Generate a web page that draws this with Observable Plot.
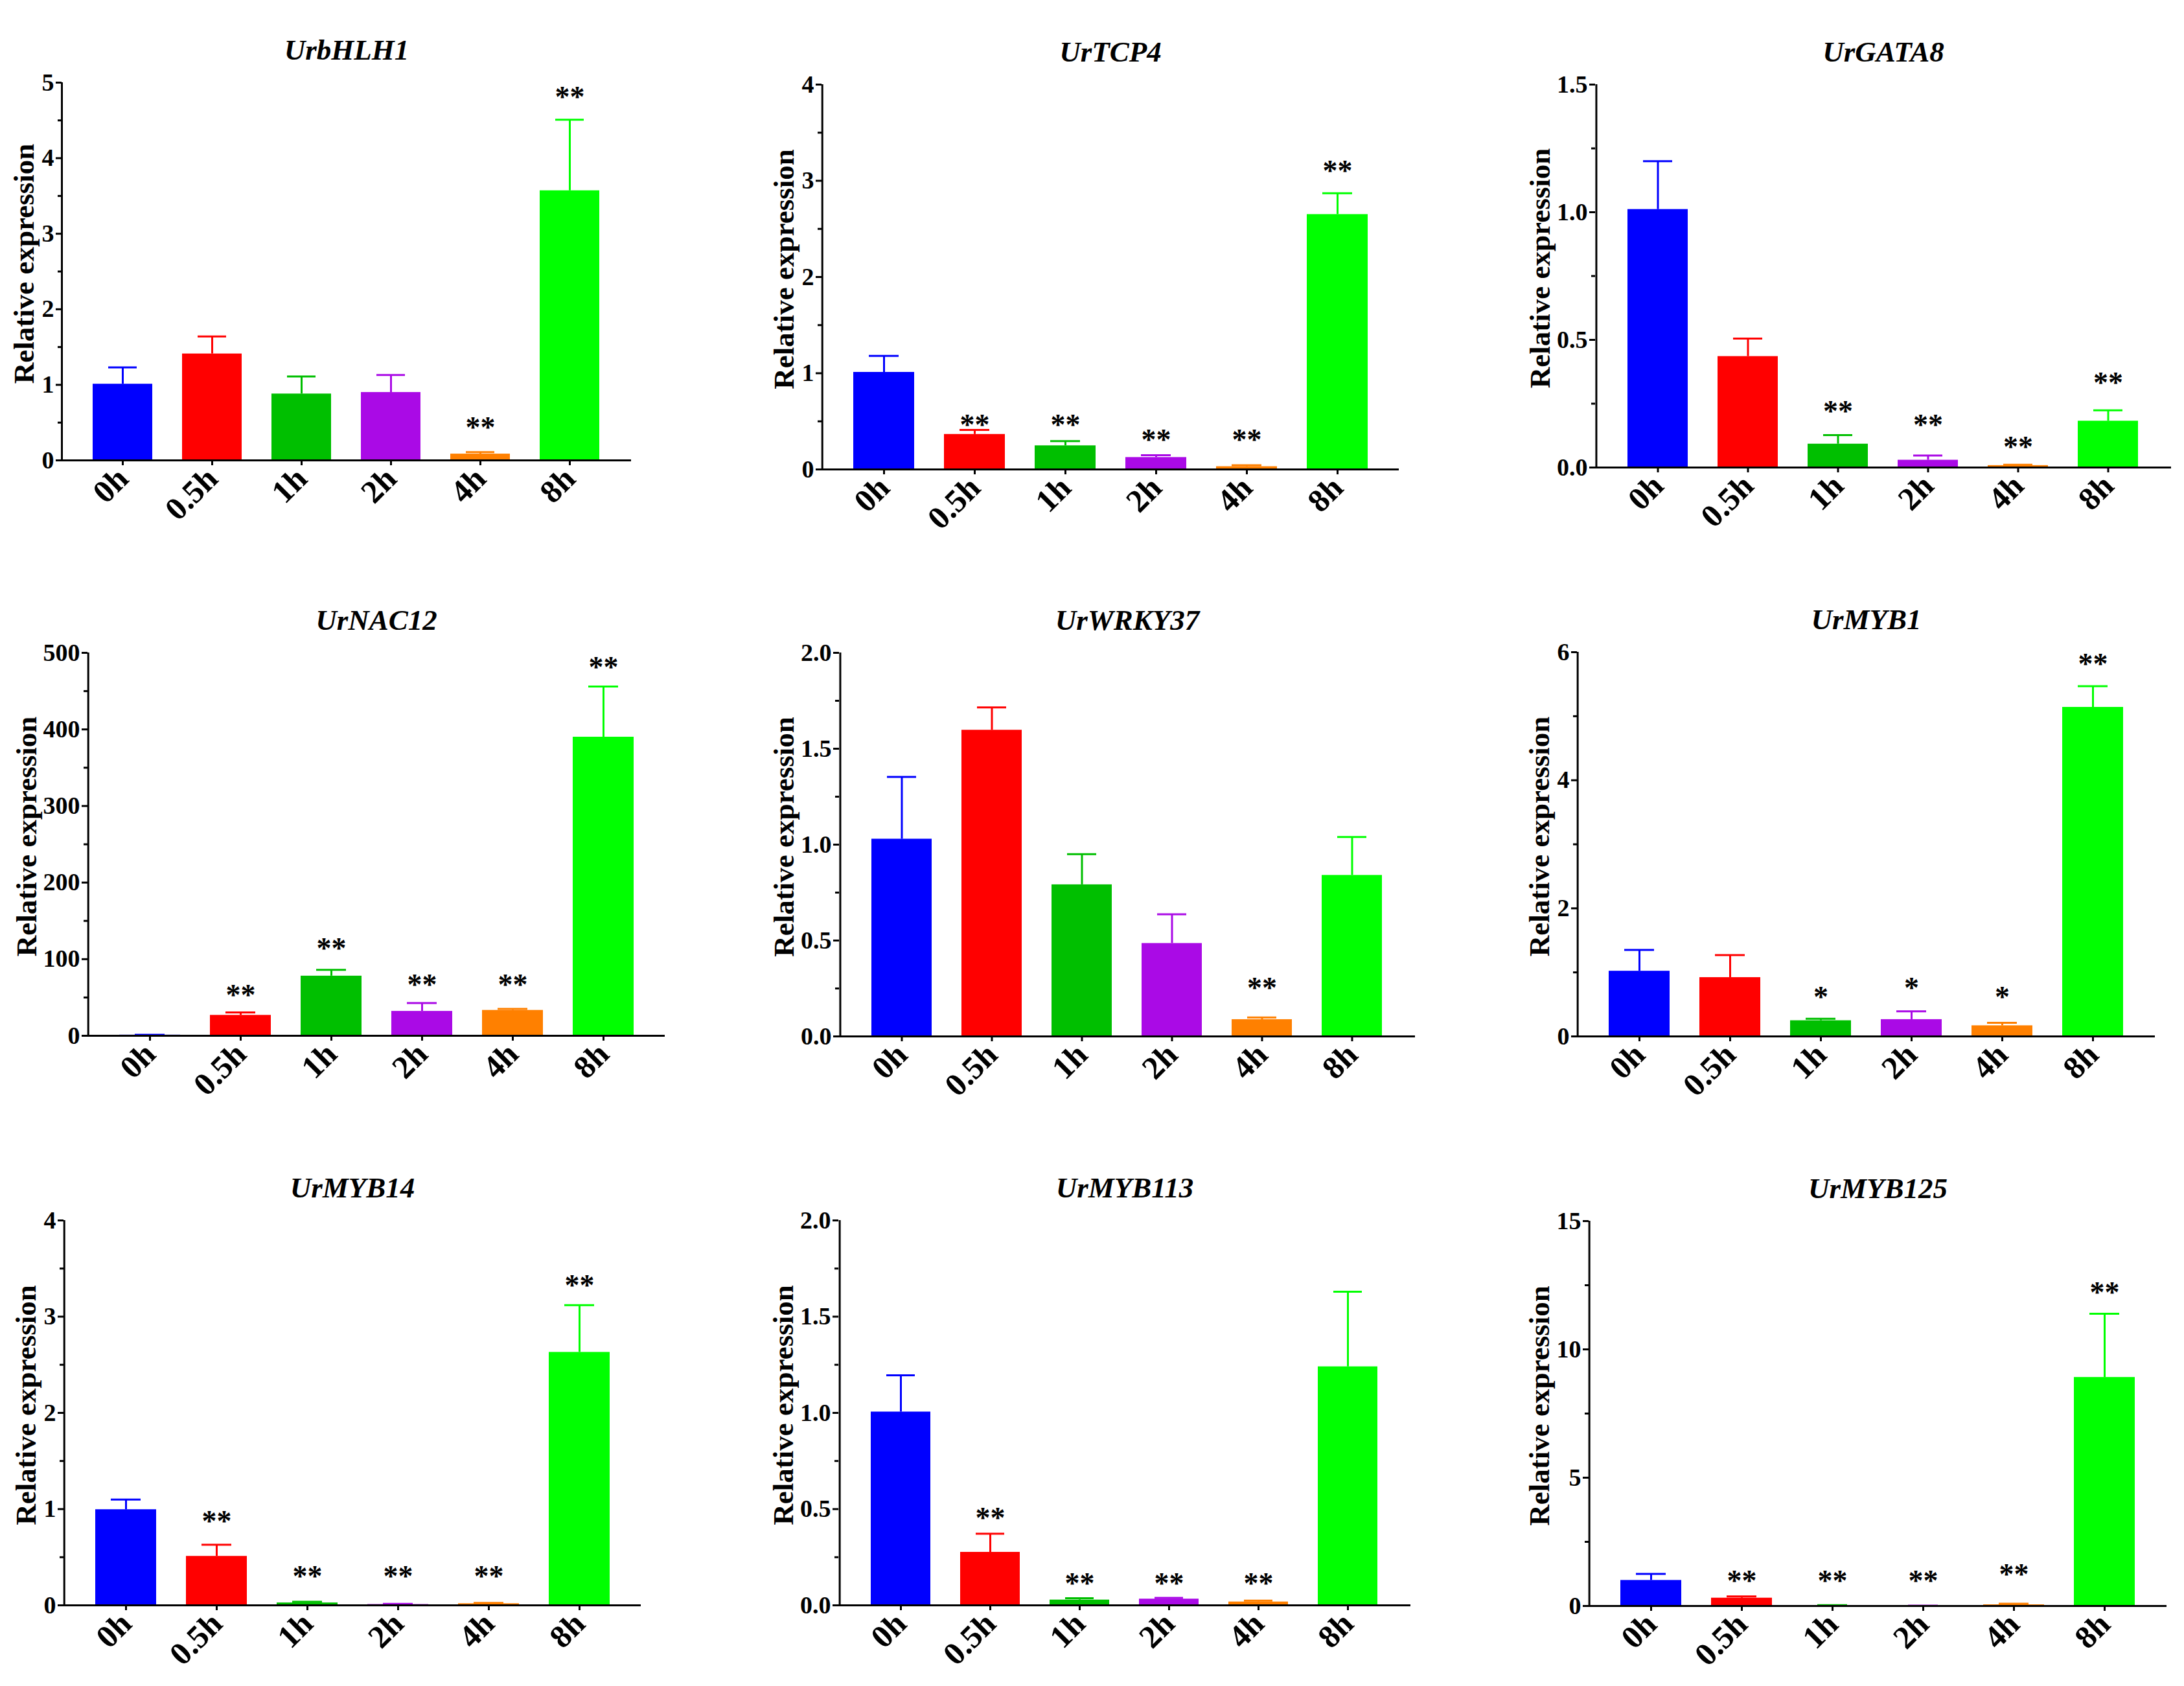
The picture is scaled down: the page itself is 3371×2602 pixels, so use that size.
<!DOCTYPE html>
<html><head><meta charset="utf-8">
<script src="https://cdn.jsdelivr.net/npm/d3@7"></script>
<script src="https://cdn.jsdelivr.net/npm/@observablehq/plot@0.6"></script>
<style>
html,body{margin:0;padding:0;background:#fff;}
#root{position:relative;width:3371px;height:2602px;overflow:hidden;background:#fff;}
#root svg{position:absolute;}
</style></head><body><div id="root"></div>
<script>
// ---- data ----
const times = ["0h", "0.5h", "1h", "2h", "4h", "8h"];
const barColors = ["#0000ff", "#ff0000", "#00bf00", "#aa0ae6", "#ff8000", "#00ff00"];
const geneNames = ["UrbHLH1", "UrTCP4", "UrGATA8", "UrNAC12", "UrWRKY37", "UrMYB1", "UrMYB14", "UrMYB113", "UrMYB125"];

const bHLH1Mean = [1.01, 1.41, 0.88, 0.90, 0.085, 3.57];
const bHLH1Sem  = [0.22, 0.23, 0.23, 0.23, 0.025, 0.94];
const bHLH1Sig  = ["", "", "", "", "**", "**"];
const bHLH1SigY = [0, 0, 0, 0, 0.517, 4.89];
const bHLH1Ticks = [0, 1, 2, 3, 4, 5];
const bHLH1TickLabels = ["0", "1", "2", "3", "4", "5"];

const TCP4Mean = [1.01, 0.365, 0.247, 0.125, 0.03, 2.65];
const TCP4Sem  = [0.17, 0.045, 0.048, 0.023, 0.014, 0.22];
const TCP4Sig  = ["", "**", "**", "**", "**", "**"];
const TCP4SigY = [0, 0.524, 0.524, 0.369, 0.369, 3.166];
const TCP4Ticks = [0, 1, 2, 3, 4];
const TCP4TickLabels = ["0", "1", "2", "3", "4"];

const GATA8Mean = [1.011, 0.435, 0.092, 0.029, 0.008, 0.182];
const GATA8Sem  = [0.189, 0.07, 0.035, 0.018, 0.003, 0.042];
const GATA8Sig  = ["", "", "**", "**", "**", "**"];
const GATA8SigY = [0, 0, 0.243, 0.19, 0.104, 0.357];
const GATA8Ticks = [0, 0.5, 1.0, 1.5];
const GATA8TickLabels = ["0.0", "0.5", "1.0", "1.5"];

const NAC12Mean = [1, 26.8, 78, 32, 33.3, 390];
const NAC12Sem  = [0.2, 3.7, 8, 10.7, 1.9, 66];
const NAC12Sig  = ["", "**", "**", "**", "**", "**"];
const NAC12SigY = [0, 61, 122, 75, 75, 489];
const NAC12Ticks = [0, 100, 200, 300, 400, 500];
const NAC12TickLabels = ["0", "100", "200", "300", "400", "500"];

const WRKY37Mean = [1.029, 1.597, 0.791, 0.485, 0.088, 0.840];
const WRKY37Sem  = [0.324, 0.118, 0.159, 0.152, 0.011, 0.20];
const WRKY37Sig  = ["", "", "", "", "**", ""];
const WRKY37SigY = [0, 0, 0, 0, 0.285, 0];
const WRKY37Ticks = [0, 0.5, 1.0, 1.5, 2.0];
const WRKY37TickLabels = ["0.0", "0.5", "1.0", "1.5", "2.0"];

const MYB1Mean = [1.02, 0.92, 0.247, 0.264, 0.168, 5.14];
const MYB1Sem  = [0.33, 0.35, 0.028, 0.129, 0.045, 0.33];
const MYB1Sig  = ["", "", "*", "*", "*", "**"];
const MYB1SigY = [0, 0, 0.713, 0.853, 0.713, 5.915];
const MYB1Ticks = [0, 2, 4, 6];
const MYB1TickLabels = ["0", "2", "4", "6"];

const MYB14Mean = [0.995, 0.51, 0.026, 0.01, 0.018, 2.63];
const MYB14Sem  = [0.105, 0.12, 0.011, 0.005, 0.008, 0.49];
const MYB14Sig  = ["", "**", "**", "**", "**", "**"];
const MYB14SigY = [0, 0.936, 0.366, 0.366, 0.366, 3.39];
const MYB14Ticks = [0, 1, 2, 3, 4];
const MYB14TickLabels = ["0", "1", "2", "3", "4"];

const MYB113Mean = [1.005, 0.276, 0.028, 0.033, 0.018, 1.24];
const MYB113Sem  = [0.19, 0.096, 0.009, 0.006, 0.006, 0.39];
const MYB113Sig  = ["", "**", "**", "**", "**", ""];
const MYB113SigY = [0, 0.487, 0.146, 0.146, 0.146, 0];
const MYB113Ticks = [0, 0.5, 1.0, 1.5, 2.0];
const MYB113TickLabels = ["0.0", "0.5", "1.0", "1.5", "2.0"];

const MYB125Mean = [1.0, 0.31, 0.02, 0.01, 0.05, 8.91];
const MYB125Sem  = [0.25, 0.06, 0.01, 0.005, 0.04, 2.48];
const MYB125Sig  = ["", "**", "**", "**", "**", "**"];
const MYB125SigY = [0, 1.22, 1.22, 1.22, 1.46, 12.45];
const MYB125Ticks = [0, 5, 10, 15];
const MYB125TickLabels = ["0", "5", "10", "15"];

const genes = [
  [bHLH1Mean, bHLH1Sem, bHLH1Sig, bHLH1SigY, bHLH1Ticks, bHLH1TickLabels],
  [TCP4Mean, TCP4Sem, TCP4Sig, TCP4SigY, TCP4Ticks, TCP4TickLabels],
  [GATA8Mean, GATA8Sem, GATA8Sig, GATA8SigY, GATA8Ticks, GATA8TickLabels],
  [NAC12Mean, NAC12Sem, NAC12Sig, NAC12SigY, NAC12Ticks, NAC12TickLabels],
  [WRKY37Mean, WRKY37Sem, WRKY37Sig, WRKY37SigY, WRKY37Ticks, WRKY37TickLabels],
  [MYB1Mean, MYB1Sem, MYB1Sig, MYB1SigY, MYB1Ticks, MYB1TickLabels],
  [MYB14Mean, MYB14Sem, MYB14Sig, MYB14SigY, MYB14Ticks, MYB14TickLabels],
  [MYB113Mean, MYB113Sem, MYB113Sig, MYB113SigY, MYB113Ticks, MYB113TickLabels],
  [MYB125Mean, MYB125Sem, MYB125Sig, MYB125SigY, MYB125Ticks, MYB125TickLabels]
].map(([mean, sem, sig, sigY, ticks, tickLabels], i) => ({name: geneNames[i], mean, sem, sig, sigY, ticks, tickLabels}));

// ---- layout (pixel geometry of each panel) ----
const cols = [[0, 1100], [1100, 2250], [2250, 3371]];
const rows = [[0, 860], [860, 1740], [1740, 2602]];
// [axisX, endX, topY, zeroY]
const frames = [
  [95, 974, 127, 710], [1268, 2159, 130, 724], [2462, 3351, 130, 721],
  [135, 1026, 1007, 1598], [1295, 2184, 1007, 1599], [2434, 3326, 1006, 1599],
  [98, 989, 1883, 2477], [1294, 2177, 1883, 2477], [2452, 3344, 1884, 2478]
];
const PAD_IN = 0.33, PAD_OUT = 0.345;

const root = document.getElementById("root");
const FONT = "'Liberation Serif', 'Times New Roman', serif";

genes.forEach((g, k) => {
  const [cl, cr] = cols[k % 3];
  const [rt, rb] = rows[Math.floor(k / 3)];
  const [ax, ex, ty, zy] = frames[k];
  const ymax = g.ticks[g.ticks.length - 1];
  const data = times.map((t, i) => ({
    t, mean: g.mean[i], top: g.mean[i] + g.sem[i], sig: g.sig[i], sigY: g.sigY[i], color: barColors[i]
  }));
  const minor = g.ticks.slice(1).map((v, i) => (v + g.ticks[i]) / 2);
  const fmt = new Map(g.ticks.map((v, i) => [v, g.tickLabels[i]]));
  const labW = d3.max(g.tickLabels, s => [...s].reduce((a, c) => a + (c === "." ? 9 : 18), 0));
  const step = (ex - ax) / (times.length - PAD_IN + 2 * PAD_OUT);
  const firstCenterOffset = step * (PAD_OUT + (1 - PAD_IN) / 2);
  const svg = Plot.plot({
    width: cr - cl,
    height: rb - rt,
    marginLeft: ax - cl,
    marginRight: cr - ex,
    marginTop: ty - rt,
    marginBottom: rb - zy,
    style: {fontFamily: FONT, background: "white", color: "black", overflow: "visible"},
    x: {domain: times, type: "band", paddingInner: PAD_IN, paddingOuter: PAD_OUT},
    y: {domain: [0, ymax]},
    marks: [
      Plot.barY(data, {x: "t", y: "mean", fill: "color"}),
      Plot.ruleX(data, {x: "t", y1: "mean", y2: "top", stroke: "color", strokeWidth: 3}),
      Plot.tickY(data, {x: "t", y: "top", stroke: "color", strokeWidth: 3, insetLeft: 24, insetRight: 24}),
      Plot.ruleY([0], {strokeWidth: 3, stroke: "black", insetLeft: -8}),
      Plot.ruleX([times[0]], {y1: 0, y2: ymax, dx: -firstCenterOffset, stroke: "black", strokeWidth: 3}),
      Plot.axisY({ticks: minor, tickFormat: () => "", tickSize: 6, strokeWidth: 3, label: null}),
      Plot.axisY({ticks: g.ticks, tickFormat: v => fmt.get(v), tickSize: 9, tickPadding: 3, fontSize: 38, fontWeight: "bold", strokeWidth: 3, label: null}),
      Plot.axisX({tickRotate: -45, tickSize: 8, tickPadding: 12, fontSize: 50, fontWeight: "bold", strokeWidth: 3, label: null}),
      Plot.text(data.filter(d => d.sig), {x: "t", y: "sigY", text: "sig", fontSize: 46, fontWeight: "bold", dy: 10}),
      Plot.text([g.name], {text: d => d, frameAnchor: "top", textAnchor: "middle", dy: -67, fontSize: 45, fontWeight: "bold", fontStyle: "italic"}),
      Plot.text(["Relative expression"], {text: d => d, frameAnchor: "left", textAnchor: "middle", rotate: -90, dx: -(40 + labW), dy: -12, fontSize: 45, fontWeight: "bold"})
    ]
  });
  svg.style.left = cl + "px";
  svg.style.top = rt + "px";
  root.appendChild(svg);
});
</script>
</body></html>
